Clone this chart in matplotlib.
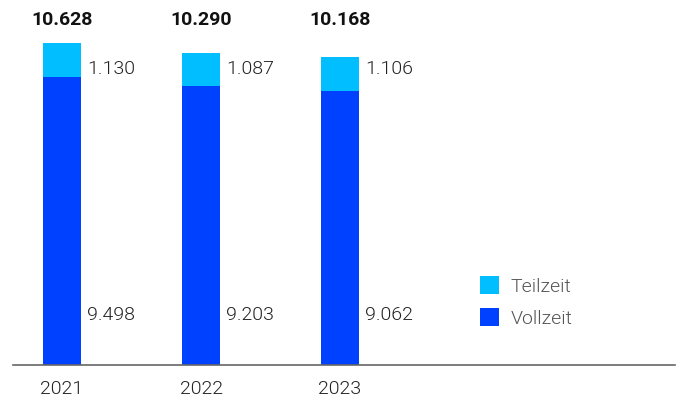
import matplotlib
matplotlib.use('Agg')
import matplotlib.pyplot as plt

plt.rcParams['font.family'] = ['Roboto', 'DejaVu Sans']

years = ['2021', '2022', '2023']
vollzeit = [9498, 9203, 9062]
teilzeit = [1130, 1087, 1106]
totals = [10628, 10290, 10168]

c_voll = '#0041FF'
c_teil = '#00BEFF'

def fmt(v):
    return f'{v:,}'.replace(',', '.')

fig = plt.figure(figsize=(6.88, 4.01), dpi=100)
ax = fig.add_axes([13 / 688, 36 / 401, 662 / 688, 365 / 401])

x = range(len(years))
w = 0.273
ax.bar(x, vollzeit, width=w, color=c_voll, label='Vollzeit')
ax.bar(x, teilzeit, width=w, bottom=vollzeit, color=c_teil, label='Teilzeit')

ax.set_xlim(-0.3525, 4.41)
ax.set_ylim(0, 12050)

for i in x:
    ax.text(i + 0.182, 9780, fmt(teilzeit[i]), fontsize=14, color='#222222',
            fontweight=300, ha='left', va='center')
    ax.text(i + 0.182, 1650, fmt(vollzeit[i]), fontsize=14, color='#222222',
            fontweight=300, ha='left', va='center')
    ax.text(i, 11400, fmt(totals[i]), fontsize=14, fontweight='bold',
            color='#111111', ha='center', va='center')

ax.set_xticks(list(x))
ax.set_xticklabels(years, fontsize=14, color='#222222', fontweight=300)
ax.tick_params(axis='x', length=0, pad=11)
ax.set_yticks([])
for s in ['top', 'right', 'left']:
    ax.spines[s].set_visible(False)
ax.spines['bottom'].set_color('#666666')
ax.spines['bottom'].set_linewidth(1.2)

h, l = ax.get_legend_handles_labels()
leg = ax.legend(h[::-1], l[::-1], loc='upper left', bbox_to_anchor=(0.69, 0.27),
                frameon=False, handlelength=1.0, handleheight=1.0,
                handletextpad=0.6, labelspacing=0.65, borderpad=0,
                prop={'size': 14, 'weight': 300})
for t in leg.get_texts():
    t.set_color('#555555')

fig.savefig('out.png', dpi=100)
